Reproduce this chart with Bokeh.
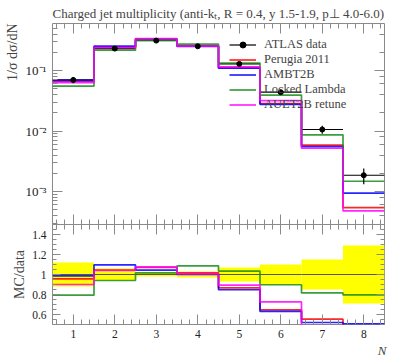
import numpy as np
from bokeh.plotting import figure
from bokeh.models import (Range1d, LinearAxis, LogAxis, FixedTicker, Legend, LegendItem, Title,
                          CustomJSTickFormatter, LogTicker, SingleIntervalTicker)
from bokeh.layouts import column
from bokeh.embed import file_html
from bokeh.resources import INLINE

# ---------------- data ----------------
N = [1, 2, 3, 4, 5, 6, 7, 8]
data = [0.070, 0.231, 0.313, 0.252, 0.129, 0.0439, 0.0106, 0.00186]
data_err = [0.0084, 0.0139, 0.0063, 0.0076, 0.0090, 0.0044, 0.0016, 0.00054]
perugia = [0.0670, 0.2414, 0.3349, 0.2563, 0.1118, 0.0284, 0.00586, 0.00054]
ambt2b = [0.0690, 0.2534, 0.3265, 0.2520, 0.1093, 0.0277, 0.00551, 0.00094]
locked = [0.0555, 0.2171, 0.3183, 0.2739, 0.1333, 0.0394, 0.00865, 0.00148]
auet2b = [0.0630, 0.2402, 0.3371, 0.2538, 0.1152, 0.0319, 0.00519, 0.00048]
series_names = ["Perugia 2011", "AMBT2B", "Locked Lambda", "AUET2B retune"]
series_colors = ["#ff0000", "#0000ff", "#1a8c1a", "#ff00ff"]
ratio_ticks = [0.6, 0.8, 1.0, 1.2, 1.4]

FONT = "Liberation Serif"
AX = "#8a8a8a"

Na = np.array(N, dtype=float)
lo_edges = Na - 0.5
hi_edges = Na + 0.5
edges = np.append(lo_edges, hi_edges[-1])
d = np.array(data)
de = np.array(data_err)
mcs = [np.array(s) for s in (perugia, ambt2b, locked, auet2b)]
minor_r = [float(v) for v in np.round(np.arange(0.5, 1.51, 0.05), 3)]

W = 390
LB = 49      # left border
RB = 6       # right border
T1 = 23      # title + top axis band
GAP = 10     # bottom border of main / top border of ratio (overlapped)
B2 = 33
xr = Range1d(0.5, 8.5)


def style_axis(ax, major=10, minor=5, labels=True, size="11px"):
    ax.axis_line_color = None
    ax.major_tick_line_color = AX
    ax.minor_tick_line_color = AX
    ax.major_tick_in = major
    ax.major_tick_out = 0
    ax.minor_tick_in = minor
    ax.minor_tick_out = 0
    ax.axis_label_standoff = 0
    ax.major_label_text_font = FONT
    if labels:
        ax.major_label_text_font_size = size
        ax.major_label_standoff = 6
        ax.major_label_text_color = "#222222"
    else:
        ax.formatter = CustomJSTickFormatter(code="return ' ';")
        ax.major_label_text_font_size = "1px"
        ax.major_label_text_alpha = 0
        ax.major_label_standoff = 0


# ---------------- main panel ----------------
p1 = figure(width=W, height=T1 + 201 + GAP, x_range=xr, y_axis_type="log",
            y_range=Range1d(2.85e-4, 0.6), output_backend="svg",
            toolbar_location=None, min_border_left=LB, min_border_right=RB,
            min_border_top=T1, min_border_bottom=GAP)
p1.grid.visible = False
p1.outline_line_color = AX
p1.title.text = "Charged jet multiplicity (anti-k\u209c, R = 0.4, y 1.5-1.9, p\u22a5 4.0-6.0)"
p1.title.text_font = FONT
p1.title.text_font_size = "13px"
p1.title.text_font_style = "normal"
p1.title.standoff = 6

p1.xaxis.ticker = SingleIntervalTicker(interval=1, num_minor_ticks=5)
style_axis(p1.xaxis[0], labels=False)
p1.yaxis.formatter = CustomJSTickFormatter(code="""
const e = Math.round(Math.log10(tick));
const sup = {'-':'\u207b','0':'\u2070','1':'\u00b9','2':'\u00b2','3':'\u00b3','4':'\u2074','5':'\u2075','6':'\u2076','7':'\u2077','8':'\u2078','9':'\u2079'};
return '10' + String(e).split('').map(c => sup[c]).join('');
""")
style_axis(p1.yaxis[0], size="13px")

top1 = LinearAxis(ticker=SingleIntervalTicker(interval=1, num_minor_ticks=5))
style_axis(top1, labels=False)
p1.add_layout(top1, "above")
right1 = LogAxis(ticker=LogTicker())
style_axis(right1, labels=False)
p1.add_layout(right1, "right")

p1.add_layout(Title(text="1/\u03c3 d\u03c3/dN", align="right", text_font=FONT,
                    text_font_size="14px", text_font_style="normal", standoff=5), "left")

# data x-error lines
r_dx = p1.segment(x0=lo_edges, y0=d, x1=hi_edges, y1=d, line_color="black", line_width=1.2)
mc_r = []
for s, c in zip(mcs, series_colors):
    r = p1.step(x=edges, y=np.append(s, s[-1]), mode="after", line_color=c,
                line_width=1.7, line_alpha=0.85)
    mc_r.append(r)
p1.segment(x0=Na, y0=d - de, x1=Na, y1=d + de, line_color="black", line_width=1.2)
r_dot = p1.scatter(x=Na, y=d, size=5, color="black")

items = [LegendItem(label="ATLAS data", renderers=[r_dx, r_dot])]
for name, r in zip(series_names, mc_r):
    items.append(LegendItem(label=name, renderers=[r]))
leg = Legend(items=items, location=(177, 112), padding=0, margin=0,
             border_line_color=None, background_fill_alpha=0,
             glyph_width=27, glyph_height=15, label_height=15, spacing=0,
             label_standoff=8, label_text_font=FONT, label_text_font_size="12.5px")
p1.add_layout(leg, "center")

# ---------------- ratio panel ----------------
p2 = figure(width=W, height=GAP + 100 + B2, x_range=xr, y_range=Range1d(0.5, 1.5),
            output_backend="svg", toolbar_location=None, min_border_left=LB,
            min_border_right=RB, min_border_top=GAP, min_border_bottom=B2)
p2.margin = (-2 * GAP, 0, 0, 0)
p2.border_fill_alpha = 0
p2.grid.visible = False
p2.outline_line_color = AX
rel = de / d
p2.quad(left=lo_edges, right=hi_edges, bottom=1 - rel, top=1 + rel,
        fill_color="#ffff00", line_color=None)
p2.segment(x0=lo_edges, y0=np.ones_like(d), x1=hi_edges, y1=np.ones_like(d),
           line_color="#555555", line_width=1)
for s, c in zip(mcs, series_colors):
    rt = s / d
    p2.step(x=edges, y=np.append(rt, rt[-1]), mode="after", line_color=c,
            line_width=1.7, line_alpha=0.85)

p2.xaxis.ticker = SingleIntervalTicker(interval=1, num_minor_ticks=5)
style_axis(p2.xaxis[0], size="11.5px")
p2.xaxis.major_label_standoff = 5
p2.yaxis.ticker = FixedTicker(ticks=ratio_ticks, minor_ticks=minor_r)
p2.yaxis.formatter = CustomJSTickFormatter(
    code="return (Math.abs(tick-1)<1e-9) ? '1' : tick.toFixed(1);")
style_axis(p2.yaxis[0], major=8, minor=4, size="11.5px")
top2 = LinearAxis(ticker=SingleIntervalTicker(interval=1, num_minor_ticks=5))
style_axis(top2, labels=False)
p2.add_layout(top2, "above")
right2 = LinearAxis(ticker=FixedTicker(ticks=ratio_ticks, minor_ticks=minor_r))
style_axis(right2, major=8, minor=4, labels=False)
p2.add_layout(right2, "right")
p2.add_layout(Title(text="MC/data", align="center", text_font=FONT,
                    text_font_size="14px", text_font_style="normal", standoff=5), "left")
p2.add_layout(Title(text="N", align="right", text_font=FONT, text_font_size="13px",
                    text_font_style="italic", standoff=0, offset=-2), "below")

lay = column(p1, p2, spacing=0)
open("out.html", "w").write(file_html(lay, INLINE))
